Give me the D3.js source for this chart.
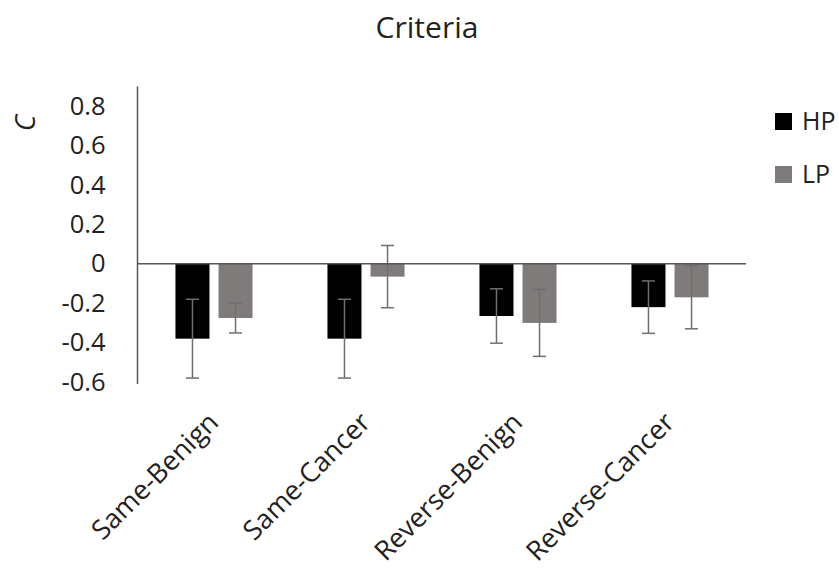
<!DOCTYPE html>
<html>
<head>
<meta charset="utf-8">
<script src="https://cdn.jsdelivr.net/npm/d3@7"></script>
<style>
  html, body { margin: 0; padding: 0; background: #fff; }
  svg { display: block; font-family: "Open Sans", sans-serif; }
</style>
</head>
<body>
<svg id="chart" width="839" height="574"></svg>
<script>
// Response criterion C by condition, for HP and LP groups (mean ± error)
const categories = ["Same-Benign", "Same-Cancer", "Reverse-Benign", "Reverse-Cancer"];
const seriesNames = ["HP", "LP"];
const hpValues = [-0.38, -0.38, -0.265, -0.22];
const hpErrors = [0.20, 0.20, 0.138, 0.133];
const lpValues = [-0.275, -0.065, -0.30, -0.17];
const lpErrors = [0.076, 0.158, 0.17, 0.16];
const yTicks = [-0.6, -0.4, -0.2, 0, 0.2, 0.4, 0.6, 0.8];
const colors = { HP: "#000000", LP: "#807b7b" };

const svg = d3.select("#chart");

const x0 = d3.scaleBand().domain(categories).range([138, 746])
  .paddingInner(0.493).paddingOuter(0.2465);
const x1 = d3.scaleBand().domain(seriesNames).range([0, x0.bandwidth()])
  .paddingInner(0.21);
const y = d3.scaleLinear().domain([-0.6, 0.9]).range([382, 86.5]);

const rows = categories.map((c, i) => ({
  cat: c,
  items: [
    { s: "HP", v: hpValues[i], e: hpErrors[i] },
    { s: "LP", v: lpValues[i], e: lpErrors[i] }
  ]
}));

// Title
svg.append("text").attr("x", 427).attr("y", 38).attr("text-anchor", "middle")
  .attr("font-size", 30).attr("fill", "#222").text("Criteria");

// Y axis (plain hyphen for negatives)
const yAxis = d3.axisLeft(y).tickValues(yTicks).tickSize(0).tickPadding(0)
  .tickFormat(d => d === 0 ? "0" : String(+d.toFixed(1)));
const gy = svg.append("g").attr("transform", "translate(137.5,0)").call(yAxis);
gy.select(".domain").attr("stroke", "#555").attr("stroke-width", 1.5)
  .attr("d", `M0,${y(0.9)}V${y(-0.6) + 2}`);
gy.selectAll(".tick text").attr("x", -32).attr("font-size", 25.5)
  .attr("fill", "#222").attr("font-family", "'Open Sans', sans-serif");

// Y axis title
svg.append("text").attr("transform", "translate(35,123) rotate(-90)")
  .attr("text-anchor", "middle").attr("font-size", 28).attr("font-style", "italic")
  .attr("fill", "#222").text("C");

// Bars
const groups = svg.append("g").selectAll("g").data(rows).join("g")
  .attr("transform", d => `translate(${x0(d.cat)},0)`);
groups.selectAll("rect").data(d => d.items).join("rect")
  .attr("x", d => x1(d.s)).attr("width", x1.bandwidth())
  .attr("y", d => y(Math.max(0, d.v)))
  .attr("height", d => Math.abs(y(d.v) - y(0)))
  .attr("fill", d => colors[d.s]);

// Zero line
svg.append("line").attr("x1", 137.5).attr("x2", 746).attr("y1", y(0)).attr("y2", y(0))
  .attr("stroke", "#555").attr("stroke-width", 1.5);

// Error bars
const eb = groups.selectAll("g.err").data(d => d.items).join("g").attr("class", "err")
  .attr("stroke", "#6f6f6f").attr("stroke-width", 1.5);
const cx = d => x1(d.s) + x1.bandwidth() / 2;
eb.append("line").attr("x1", cx).attr("x2", cx)
  .attr("y1", d => y(d.v + d.e)).attr("y2", d => y(d.v - d.e));
eb.append("line").attr("x1", d => cx(d) - 6.5).attr("x2", d => cx(d) + 6.5)
  .attr("y1", d => y(d.v + d.e)).attr("y2", d => y(d.v + d.e));
eb.append("line").attr("x1", d => cx(d) - 6.5).attr("x2", d => cx(d) + 6.5)
  .attr("y1", d => y(d.v - d.e)).attr("y2", d => y(d.v - d.e));

// Category labels, rotated
svg.append("g").selectAll("text").data(categories).join("text")
  .attr("transform", d => `translate(${x0(d) + x0.bandwidth() / 2 + 6},424) rotate(-45)`)
  .attr("text-anchor", "end").attr("font-size", 27).attr("fill", "#222")
  .text(d => d);

// Legend
const legend = svg.append("g").selectAll("g").data(seriesNames).join("g")
  .attr("transform", (d, i) => `translate(775,${113 + i * 53})`);
legend.append("rect").attr("width", 17).attr("height", 17).attr("fill", d => colors[d]);
legend.append("text").attr("x", 27).attr("y", 17).attr("font-size", 25)
  .attr("fill", "#222").text(d => d);
</script>
</body>
</html>
